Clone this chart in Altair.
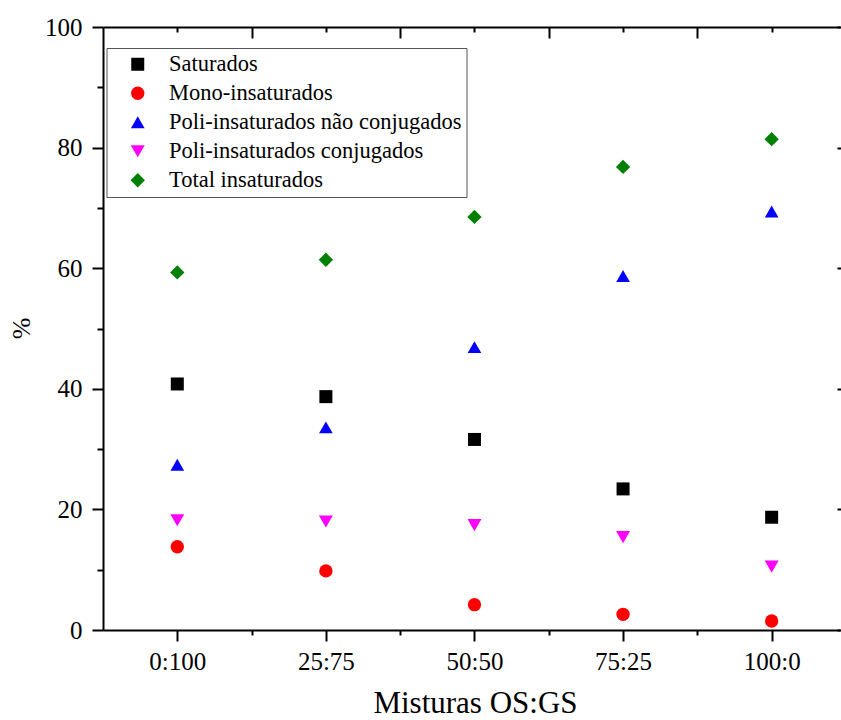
import altair as alt
import pandas as pd

mixtures = ["0:100", "25:75", "50:50", "75:25", "100:0"]
series = [
    "Saturados",
    "Mono-insaturados",
    "Poli-insaturados não conjugados",
    "Poli-insaturados conjugados",
    "Total insaturados",
]
saturados = [40.8, 38.7, 31.6, 23.4, 18.7]
mono = [13.8, 9.8, 4.2, 2.6, 1.5]
poli_nc = [27.4, 33.6, 46.9, 58.7, 69.4]
poli_c = [18.2, 18.0, 17.4, 15.4, 10.5]
total = [59.3, 61.4, 68.5, 76.8, 81.4]

colors = ["#000000", "#ff0000", "#0000ff", "#ff00ff", "#008000"]
shapes = ["square", "circle", "M0,-0.866L1,0.866L-1,0.866Z",
          "M-1,-0.866L1,-0.866L0,0.866Z", "diamond"]
sizes = [169, 205, 300, 300, 330]

y_major = [0, 20, 40, 60, 80, 100]
y_minor = [10, 30, 50, 70, 90]
x_major = [0, 1, 2, 3, 4]
x_minor = [0.5, 1.5, 2.5, 3.5]

FONT = "Liberation Serif"
W, H = 737, 603
X_DOMAIN = [-0.5, 4.46]

rows = []
for name, vals in zip(series, [saturados, mono, poli_nc, poli_c, total]):
    for i, v in enumerate(vals):
        rows.append({"xi": i, "mixture": mixtures[i], "series": name, "value": v})
df = pd.DataFrame(rows)

xs = alt.Scale(domain=X_DOMAIN, nice=False, zero=False)
ys = alt.Scale(domain=[0, 100], nice=False, zero=False)

label_expr = "[" + ",".join("'" + m + "'" for m in mixtures) + "][datum.value]"

common = dict(grid=False, tickColor="black", domainColor="black", tickWidth=2,
              domainWidth=2, labelFont=FONT, labelColor="black", titleFont=FONT,
              titleColor="black", titleFontWeight="normal")

leg = alt.Legend(title=None, orient="none", legendX=3.5, legendY=21,
                 strokeColor="#555555", fillColor="white", padding=5,
                 labelFont=FONT, labelFontSize=22.5, labelColor="black",
                 labelLimit=500, rowPadding=6, symbolOffset=15, labelOffset=20,
                 symbolStrokeWidth=0, symbolOpacity=1)

points = alt.Chart(df).mark_point(filled=True, opacity=1, strokeWidth=0).encode(
    x=alt.X("xi:Q", scale=xs, axis=alt.Axis(
        orient="bottom", values=x_major, labelExpr=label_expr, tickSize=11,
        labelFontSize=25, labelPadding=8, title="Misturas OS:GS", titleFontSize=31,
        titleX=372, titleY=82, titleBaseline="alphabetic", titleAnchor="start",
        titleAlign="center", **common)),
    y=alt.Y("value:Q", scale=ys, axis=alt.Axis(
        orient="left", values=y_major, tickSize=11, labelFontSize=25,
        labelPadding=10, title="%", titleFontSize=26, titleX=-82, titleY=301,
        titleBaseline="middle", titleAlign="center", titleAngle=270, **common)),
    color=alt.Color("series:N", scale=alt.Scale(domain=series, range=colors), legend=leg),
    shape=alt.Shape("series:N", scale=alt.Scale(domain=series, range=shapes), legend=leg),
    size=alt.Size("series:N", scale=alt.Scale(domain=series, range=sizes), legend=leg),
)

minor = alt.Chart(df).mark_point(opacity=0).encode(
    x=alt.X("xi:Q", scale=xs, axis=alt.Axis(
        orient="bottom", values=x_minor, labels=False, domain=False, tickSize=5,
        title=None, **common)),
    y=alt.Y("value:Q", scale=ys, axis=alt.Axis(
        orient="left", values=y_minor, labels=False, domain=False, tickSize=6,
        title=None, **common)),
)

opposite = alt.Chart(df).mark_point(opacity=0).encode(
    x=alt.X("xi:Q", scale=xs, axis=alt.Axis(
        orient="bottom", offset=-H, values=x_minor, labels=False, domain=True,
        tickSize=11, title=None, **common)),
    y=alt.Y("value:Q", scale=ys, axis=alt.Axis(
        orient="left", offset=-744, values=y_major, labels=False, domain=False,
        tickSize=10, title=None, **common)),
)

opposite_minor = alt.Chart(df).mark_point(opacity=0).encode(
    x=alt.X("xi:Q", scale=xs, axis=alt.Axis(
        orient="bottom", offset=-H, values=x_major, labels=False, domain=False,
        tickSize=5, title=None, **common)),
    y=alt.Y("value:Q", scale=ys, axis=alt.Axis(
        orient="left", offset=-744, values=y_minor, labels=False, domain=False,
        tickSize=5, title=None, **common)),
)

chart = alt.layer(minor, opposite, opposite_minor, points).resolve_axis(
    x="independent", y="independent"
).properties(
    width=W, height=H,
    autosize=alt.AutoSizeParams(type="none"),
    padding={"left": 103, "top": 27, "right": 1, "bottom": 90},
    background="white",
).configure_view(strokeWidth=0)

chart.save("out.html", embed_options={"renderer": "svg", "actions": False})
